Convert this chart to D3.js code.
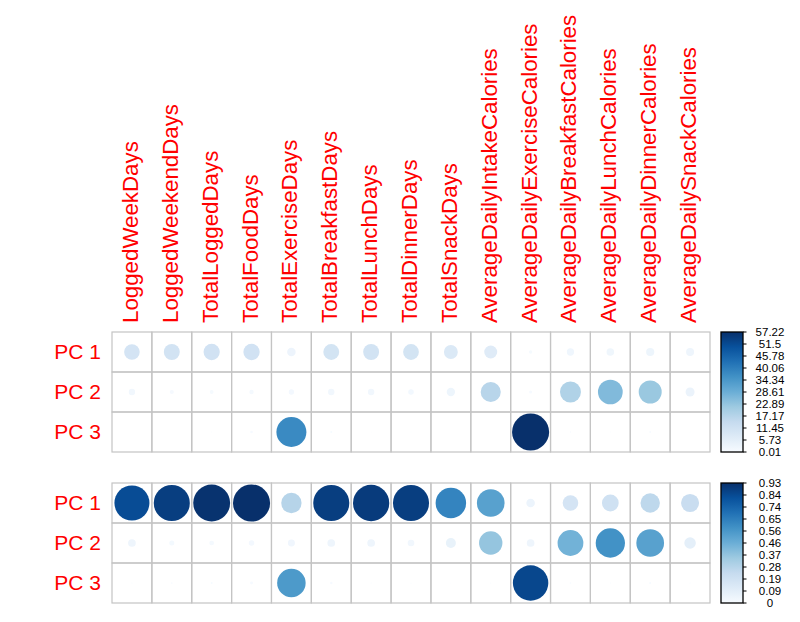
<!DOCTYPE html>
<html>
<head>
<meta charset="utf-8">
<script src="https://cdn.jsdelivr.net/npm/d3@7"></script>
<style>
  body { margin: 0; background: #fff; }
  text { font-family: "Liberation Sans", Arial, sans-serif; }
</style>
</head>
<body>
<svg id="chart" width="800" height="622"></svg>
<script>
const variables = [
  "LoggedWeekDays", "LoggedWeekendDays", "TotalLoggedDays", "TotalFoodDays",
  "TotalExerciseDays", "TotalBreakfastDays", "TotalLunchDays", "TotalDinnerDays",
  "TotalSnackDays", "AverageDailyIntakeCalories", "AverageDailyExerciseCalories",
  "AverageDailyBreakfastCalories", "AverageDailyLunchCalories",
  "AverageDailyDinnerCalories", "AverageDailySnackCalories"
];
const components = ["PC 1", "PC 2", "PC 3"];

// contributions of variables (%)
const contribPC1 = [10.1, 10.6, 11.0, 11.1, 3.0, 10.5, 10.6, 10.4, 8.0, 7.0, 0.5, 2.2, 2.4, 2.8, 2.7];
const contribPC2 = [1.7, 0.7, 0.6, 0.8, 1.2, 1.7, 1.7, 1.3, 2.9, 16.8, 0.4, 18.3, 25.5, 22.0, 3.4];
const contribPC3 = [0.01, 0.02, 0.05, 0.3, 37.5, 0.2, 0.05, 0.05, 0.02, 0.03, 57.22, 0.1, 0.05, 0.15, 0.05];

// cos2 of variables
const cos2PC1 = [0.83, 0.88, 0.92, 0.93, 0.28, 0.88, 0.89, 0.88, 0.63, 0.52, 0.05, 0.165, 0.19, 0.255, 0.22];
const cos2PC2 = [0.04, 0.017, 0.015, 0.02, 0.033, 0.04, 0.04, 0.03, 0.068, 0.37, 0.04, 0.45, 0.58, 0.52, 0.09];
const cos2PC3 = [0.001, 0.002, 0.003, 0.006, 0.55, 0.004, 0.001, 0.001, 0.0005, 0.001, 0.85, 0.002, 0.001, 0.003, 0.001];

const contribTicks = ["0.01", "5.73", "11.45", "17.17", "22.89", "28.61", "34.34", "40.06", "45.78", "51.5", "57.22"];
const cos2Ticks = ["0", "0.09", "0.19", "0.28", "0.37", "0.46", "0.56", "0.65", "0.74", "0.84", "0.93"];

const BLUES = ["#F7FBFF", "#DEEBF7", "#C6DBEF", "#9ECAE1", "#6BAED6", "#4292C6", "#2171B5", "#08519C", "#08306B"];

const GRID_LEFT = 112, GRID_RIGHT = 710;
const BAR_X = 721, BAR_W = 22;
const LABEL_RED = "#ff0000";

const svg = d3.select("#chart");

const x = d3.scaleBand().domain(variables).range([GRID_LEFT, GRID_RIGHT]);

// column labels
svg.append("g")
  .selectAll("text")
  .data(variables)
  .join("text")
  .attr("transform", d => `translate(${x(d) + x.bandwidth() / 2 + 6},323) rotate(-90)`)
  .attr("fill", LABEL_RED)
  .attr("font-size", "22.3px")
  .text(d => d);

const defs = svg.append("defs");

function drawPanel(top, rows, lo, hi, ticks, id) {
  const y = d3.scaleBand().domain(components).range([top, top + 120]);
  const g = svg.append("g");

  const stops = BLUES.map((c, i) => lo + (hi - lo) * i / (BLUES.length - 1));
  const color = d3.scaleLinear().domain(stops).range(BLUES).interpolate(d3.interpolateRgb).clamp(true);
  const rmax = x.bandwidth() * 0.465;
  const radius = v => Math.sqrt(Math.max(0, (v - lo) / (hi - lo))) * rmax;

  const cells = [];
  components.forEach((pc, i) => {
    variables.forEach((v, j) => cells.push({ pc, v, val: rows[i][j] }));
  });

  // grid
  g.selectAll("rect.cell")
    .data(cells)
    .join("rect")
    .attr("class", "cell")
    .attr("x", d => x(d.v))
    .attr("y", d => y(d.pc))
    .attr("width", x.bandwidth())
    .attr("height", y.bandwidth())
    .attr("fill", "none")
    .attr("stroke", "#c4c4c4")
    .attr("stroke-width", 1.2);

  g.selectAll("circle")
    .data(cells)
    .join("circle")
    .attr("cx", d => x(d.v) + x.bandwidth() / 2)
    .attr("cy", d => y(d.pc) + y.bandwidth() / 2)
    .attr("r", d => radius(d.val))
    .attr("fill", d => color(d.val));

  // row labels
  g.selectAll("text.row")
    .data(components)
    .join("text")
    .attr("class", "row")
    .attr("x", 101)
    .attr("y", d => y(d) + y.bandwidth() / 2 + 6.5)
    .attr("text-anchor", "end")
    .attr("fill", LABEL_RED)
    .attr("font-size", "21px")
    .text(d => d);

  // colour bar
  const grad = defs.append("linearGradient")
    .attr("id", id)
    .attr("x1", 0).attr("y1", 1).attr("x2", 0).attr("y2", 0);
  grad.selectAll("stop")
    .data(BLUES)
    .join("stop")
    .attr("offset", (d, i) => i / (BLUES.length - 1))
    .attr("stop-color", d => d);

  g.append("rect")
    .attr("x", BAR_X)
    .attr("y", top)
    .attr("width", BAR_W)
    .attr("height", 120)
    .attr("fill", `url(#${id})`)
    .attr("stroke", "#000")
    .attr("stroke-width", 1.3);

  const ty = d3.scaleLinear().domain([0, ticks.length - 1]).range([top + 120, top]);
  g.selectAll("line.tick")
    .data(ticks)
    .join("line")
    .attr("class", "tick")
    .attr("x1", BAR_X + BAR_W)
    .attr("x2", BAR_X + BAR_W + 3.5)
    .attr("y1", (d, i) => ty(i))
    .attr("y2", (d, i) => ty(i))
    .attr("stroke", "#000")
    .attr("stroke-width", 1);

  g.selectAll("text.tick")
    .data(ticks)
    .join("text")
    .attr("class", "tick")
    .attr("x", 770)
    .attr("y", (d, i) => ty(i) + 4)
    .attr("text-anchor", "middle")
    .attr("font-size", "11.5px")
    .attr("fill", "#000")
    .text(d => d);
}

drawPanel(332, [contribPC1, contribPC2, contribPC3], 0.01, 57.22, contribTicks, "gradContrib");
drawPanel(483, [cos2PC1, cos2PC2, cos2PC3], 0, 0.93, cos2Ticks, "gradCos2");
</script>
</body>
</html>
